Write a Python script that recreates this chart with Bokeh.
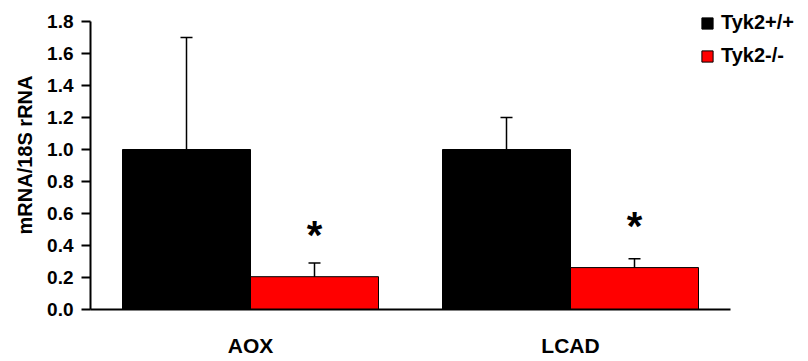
from bokeh.plotting import figure
from bokeh.models import (ColumnDataSource, Range1d, Whisker, TeeHead, Title,
                          Legend, LegendItem, FixedTicker, NumeralTickFormatter)
from bokeh.core.properties import value
from bokeh.embed import file_html
from bokeh.resources import INLINE

categories = ["AOX", "LCAD"]
wt_values = [1.0, 1.0]
wt_err = [0.70, 0.20]
ko_values = [0.205, 0.262]
ko_err = [0.085, 0.055]
star_y = [0.49, 0.55]
series_names = ["Tyk2+/+", "Tyk2-/-"]
y_ticks = [0.0, 0.2, 0.4, 0.6, 0.8, 1.0, 1.2, 1.4, 1.6, 1.8]
y_label = "mRNA/18S rRNA"

FONT = "Liberation Sans"
BAR_W = 0.4
n = len(categories)
centers = [i + 0.5 for i in range(n)]
y_max = y_ticks[-1]

src = ColumnDataSource(dict(
    xc=centers,
    x_wt=[c - BAR_W / 2 for c in centers],
    x_ko=[c + BAR_W / 2 for c in centers],
    wt=wt_values,
    wt_up=[v + e for v, e in zip(wt_values, wt_err)],
    wt_lo=[v - e for v, e in zip(wt_values, wt_err)],
    ko=ko_values,
    ko_up=[v + e for v, e in zip(ko_values, ko_err)],
    ko_lo=[v - e for v, e in zip(ko_values, ko_err)],
    star=["*"] * n,
    star_y=star_y,
))

# frame spans 90..808 px horizontally (320 px per category) and 0..309 px vertically
# (160 px per unit); axes are drawn only over the data extent via bounds
x_end = n * 718 / 640
y_end = y_max * 309 / 288
p = figure(width=808, height=361, x_range=Range1d(0, x_end),
           y_range=Range1d(0, y_end), output_backend="svg", toolbar_location=None,
           min_border_left=90, min_border_right=0, min_border_top=0, min_border_bottom=52)
p.outline_line_color = None
p.xgrid.grid_line_color = None
p.ygrid.grid_line_color = None

r_wt = p.vbar(x="x_wt", top="wt", width=BAR_W, source=src,
              fill_color="black", line_color="black", line_width=1)
r_ko = p.vbar(x="x_ko", top="ko", width=BAR_W, source=src,
              fill_color="#ff0000", line_color="black", line_width=1)

for up, lo, base in (("wt_up", "wt_lo", "x_wt"), ("ko_up", "ko_lo", "x_ko")):
    w = Whisker(base=base, upper=up, lower=lo, source=src,
                line_color="black", line_width=1.5,
                upper_head=TeeHead(size=12, line_width=1.5),
                lower_head=TeeHead(size=12, line_width=1.5))
    p.add_layout(w)

p.text(x="x_ko", y="star_y", text="star", source=src,
       text_font=value(FONT), text_font_style="bold", text_font_size="40px",
       text_align="center", text_baseline="middle", y_offset=4, text_color="black")

# axes
p.yaxis.bounds = (0, y_max)
p.yaxis.ticker = FixedTicker(ticks=y_ticks)
p.yaxis.formatter = NumeralTickFormatter(format="0.0")
p.yaxis.minor_tick_line_color = None
p.yaxis.major_tick_in = 0
p.yaxis.major_tick_out = 9
p.yaxis.major_tick_line_width = 2
p.yaxis.axis_line_width = 2
p.yaxis.major_label_standoff = 8
p.yaxis.major_label_text_font = FONT
p.yaxis.major_label_text_font_style = "bold"
p.yaxis.major_label_text_font_size = "19px"
p.yaxis.major_label_text_color = "black"

p.add_layout(Title(text=y_label, align="center", offset=-12, standoff=17,
                   text_font=FONT, text_font_style="bold", text_font_size="20px",
                   text_color="black"), "left")

p.xaxis.bounds = (0, n)
p.xaxis.ticker = FixedTicker(ticks=centers)
p.xaxis.major_label_overrides = {c: cat for c, cat in zip(centers, categories)}
p.xaxis.axis_line_width = 2
p.xaxis.major_tick_line_color = None
p.xaxis.major_tick_out = 0
p.xaxis.major_tick_in = 0
p.xaxis.minor_tick_line_color = None
p.xaxis.major_label_standoff = 24
p.xaxis.major_label_text_font = FONT
p.xaxis.major_label_text_font_style = "bold"
p.xaxis.major_label_text_font_size = "21px"
p.xaxis.major_label_text_color = "black"

legend = Legend(items=[LegendItem(label=series_names[0], renderers=[r_wt]),
                       LegendItem(label=series_names[1], renderers=[r_ko])],
                location=(610, 242), glyph_width=14, glyph_height=14, label_standoff=7,
                spacing=10, padding=0, margin=0, border_line_color=None,
                background_fill_alpha=0, label_text_font=FONT, label_text_font_style="bold",
                label_text_font_size="20px", label_height=20, label_text_color="black")
p.add_layout(legend, "center")

open("out.html", "w").write(file_html(p, INLINE))
